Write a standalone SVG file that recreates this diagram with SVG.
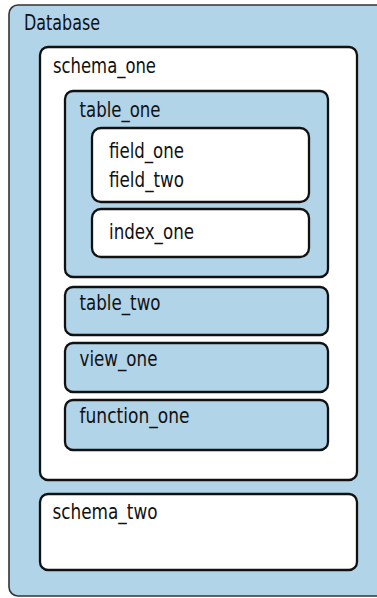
<svg xmlns="http://www.w3.org/2000/svg" width="377" height="598" viewBox="0 0 377 598">
<style>
.blue{fill:#b2d4e9;stroke:#111;stroke-width:2.3}
.white{fill:#fff;stroke:#111;stroke-width:2.3}
.outer{fill:#b2d4e9;stroke:#333;stroke-width:1.6}
text{font-family:"DejaVu Sans Condensed","Liberation Sans",sans-serif;font-size:21px;fill:#111}
</style>
<g id="database"><rect class="outer" x="9" y="5" width="380" height="591" rx="9"/><text x="24" y="30" textLength="76" lengthAdjust="spacingAndGlyphs">Database</text></g>
<g id="schema_one"><rect class="white" x="40" y="47" width="317" height="433" rx="8"/><text x="53" y="73" textLength="103" lengthAdjust="spacingAndGlyphs">schema_one</text></g>
<g id="table_one"><rect class="blue" x="65" y="91" width="263" height="186" rx="8"/><text x="79.5" y="117" textLength="81" lengthAdjust="spacingAndGlyphs">table_one</text></g>
<g id="fields"><rect class="white" x="92" y="128" width="217" height="74" rx="9"/><text x="109" y="158" textLength="75" lengthAdjust="spacingAndGlyphs">field_one</text><text x="109" y="187" textLength="75" lengthAdjust="spacingAndGlyphs">field_two</text></g>
<g id="index_one"><rect class="white" x="92" y="209" width="217" height="48" rx="9"/><text x="109" y="239" textLength="85" lengthAdjust="spacingAndGlyphs">index_one</text></g>
<g id="table_two"><rect class="blue" x="65" y="287" width="263" height="48" rx="8"/><text x="79.5" y="310" textLength="81" lengthAdjust="spacingAndGlyphs">table_two</text></g>
<g id="view_one"><rect class="blue" x="65" y="343" width="263" height="49" rx="8"/><text x="79.5" y="366" textLength="78" lengthAdjust="spacingAndGlyphs">view_one</text></g>
<g id="function_one"><rect class="blue" x="65" y="400" width="263" height="50" rx="8"/><text x="79.5" y="423" textLength="110" lengthAdjust="spacingAndGlyphs">function_one</text></g>
<g id="schema_two"><rect class="white" x="40" y="494" width="317" height="76" rx="8"/><text x="52.5" y="519" textLength="105" lengthAdjust="spacingAndGlyphs">schema_two</text></g>
<g id="connectors"/>
</svg>
